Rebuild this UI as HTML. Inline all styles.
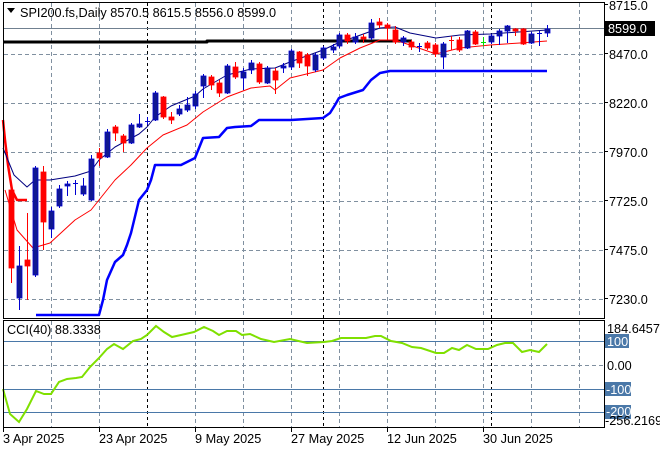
<!DOCTYPE html>
<html><head><meta charset="utf-8"><style>
html,body{margin:0;padding:0;background:#fff;width:660px;height:450px;overflow:hidden}
svg{display:block}
text{font-family:"Liberation Sans",sans-serif;font-size:12.7px;fill:#000}
</style></head><body>
<svg id="s" width="660" height="450" viewBox="0 0 660 450" xmlns="http://www.w3.org/2000/svg">
<rect x="0" y="0" width="660" height="450" fill="#fff"/>
<g id="grid"></g>
<g id="cci"></g>
<g id="main"></g>
<rect x="3.5" y="2.5" width="601" height="316" fill="none" stroke="#000"/>
<rect x="3.5" y="320.5" width="601" height="107" fill="none" stroke="#000"/>
<path d="M7 8 L15 8 L11 13 Z" fill="#000"/>
<text x="20" y="17">SPI200.fs,Daily  8570.5 8615.5 8556.0 8599.0</text>
<text x="7" y="334">CCI(40) 88.3338</text>
<g id="axis"></g>
</svg>
<script>
const NS="http://www.w3.org/2000/svg";
function el(p,t,a,txt){const e=document.createElementNS(NS,t);for(const k in a)e.setAttribute(k,a[k]);if(txt!==undefined)e.textContent=txt;document.getElementById(p).appendChild(e);return e;}
const gx=[51,99,195,243,291,339,387,435,483,531,579];
gx.forEach(x=>{el('grid','line',{x1:x+.5,y1:3,x2:x+.5,y2:318,stroke:'#8090a0','stroke-dasharray':'4,3'});el('grid','line',{x1:x+.5,y1:321,x2:x+.5,y2:427,stroke:'#8090a0','stroke-dasharray':'4,3'});});
[147,323,491].forEach(x=>{el('grid','line',{x1:x+.5,y1:3,x2:x+.5,y2:318,stroke:'#000','stroke-dasharray':'3,3'});el('grid','line',{x1:x+.5,y1:321,x2:x+.5,y2:427,stroke:'#000','stroke-dasharray':'3,3'});});
[54,103,152,201,250,299].forEach(y=>el('grid','line',{x1:4,y1:y+.5,x2:604,y2:y+.5,stroke:'#8090a0','stroke-dasharray':'4,3'}));
el('grid','line',{x1:4,y1:28.5,x2:604,y2:28.5,stroke:'#708090'});
[341,389,412].forEach(y=>el('grid','line',{x1:4,y1:y+.5,x2:604,y2:y+.5,stroke:'#4a78a8'}));
el('grid','line',{x1:4,y1:365.5,x2:604,y2:365.5,stroke:'#8090a0','stroke-dasharray':'4,3'});
const cci=[[3,389],[10,414],[19,422],[27,409],[36,391],[44,394],[51,394],[59,382],[67,379],[76,378],[82,377],[90,367],[99,358],[107,349],[114,344],[123,349],[133,341],[141,339],[147,335],[156,326],[164,332],[172,337],[181,335],[194,332],[204,327],[213,331],[219,335],[227,331],[236,331],[242,335],[250,334],[261,339],[274,342],[290,339],[307,343],[324,342],[332,341],[341,338],[366,338],[375,336],[381,336],[391,341],[402,343],[412,347],[421,348],[436,353],[444,353],[452,348],[459,350],[467,345],[476,349],[488,349],[497,345],[505,343],[513,343],[522,352],[530,350],[539,352],[547,344]];
el('cci','polyline',{points:cci.map(p=>p.join(',')).join(' '),fill:'none',stroke:'#7fe000','stroke-width':2});
function pl(pts,c,w){el('main','polyline',{points:pts.map(p=>p.join(',')).join(' '),fill:'none',stroke:c,'stroke-width':w,'stroke-linejoin':'round'});}
pl([[3,42],[207,42],[207,41],[412,41]],'#000',3);
pl([[36,315],[99,315],[103,300],[107,280],[115,262],[123,255],[127,245],[131,233],[139,200],[147,190],[151,180],[155,165],[181,165],[195,158],[203,138],[219,137],[227,128],[235,127],[251,126],[259,120],[291,120],[323,118],[330,113],[335,105],[339,98],[347,95],[363,90],[371,80],[380,73],[390,71],[547,71]],'#0000ff',2.5);
pl([[3,120],[5,140],[8,165],[12,190],[17,200],[27,200]],'#ff0000',2.5);
pl([[5,190],[17,230],[33,248],[50,243],[75,220],[91,210],[99,200],[115,180],[131,165],[147,148],[163,135],[187,125],[203,112],[227,97],[251,88],[270,86],[275,90],[290,78],[323,70],[340,58],[360,48],[380,40],[395,40],[410,45],[436,54],[460,48],[490,45],[520,43],[547,41]],'#ff0000',1);
pl([[3,148],[14,175],[27,187],[35,180],[50,180],[75,176],[91,171],[99,160],[115,147],[139,134],[147,127],[155,117],[171,106],[195,96],[203,89],[227,75],[251,69],[275,68],[290,62],[323,50],[340,42],[355,37],[380,28],[395,27],[410,33],[436,38],[460,35],[490,34],[547,30]],'#000080',1);
const C=[[11,190,268,'r',185,283],[19,266,298,'b',246,310],[27,260,266,'r',213,300],[35,168,275,'b',166,277],[43,172,222,'r',166,250],[51,211,229,'b',207,238],[59,189,206,'b',185,208],[67,184,186,'b',181,196],[75,183,184,'b',180,195],[83,186,194,'b',178,196],[91,159,200,'b',155,201],[99,153,158,'r',148,166],[107,132,157,'b',129,158],[115,127,133,'r',125,141],[123,136,143,'r',134,152],[131,125,143,'b',123,144],[139,124,127,'b',114,128],[147,121,122,'b',117,125],[155,93,120,'b',91,121],[163,97,117,'r',96,119],[171,117,120,'r',112,124],[179,109,114,'b',105,116],[187,105,110,'b',97,112],[195,94,106,'b',91,109],[203,76,86,'b',74,98],[211,77,85,'r',75,90],[219,83,93,'r',80,97],[227,66,93,'b',64,94],[235,67,77,'r',62,79],[243,72,78,'b',68,90],[251,63,70,'b',60,74],[259,64,82,'r',62,84],[267,68,83,'b',66,84],[275,71,80,'r',68,94],[283,66,68,'b',63,73],[291,51,67,'b',49,70],[299,52,63,'r',51,68],[307,55,66,'r',53,76],[315,55,70,'b',53,72],[323,48,58,'b',46,60],[333,47,50,'b',44,53],[339,35,46,'b',33,48],[347,35,41,'r',33,44],[355,37,42,'b',33,44],[363,37,39,'r',34,43],[371,23,38,'b',19,40],[379,22,25,'r',18,28],[387,25,28,'r',23,40],[395,30,42,'r',26,44],[403,38,42,'b',36,46],[411,42,47,'r',40,50],[419,46,47,'b',43,52],[427,43,48,'r',41,50],[435,45,54,'r',43,57],[443,44,57,'b',42,69],[451,40,41,'r',36,50],[459,40,50,'r',37,52],[467,31,48,'b',30,49],[475,32,44,'r',30,45],[483,42,43,'g',37,46],[491,36,42,'b',34,44],[499,31,36,'b',29,45],[507,26,31,'b',25,43],[515,29,31,'r',28,36],[523,29,44,'r',28,45],[531,34,43,'b',32,44],[539,33,34,'b',31,46],[547,29,33,'b',25,37]];
C.forEach(([x,t,b,c,wt,wb])=>{const col=c=='r'?'#ff0000':(c=='g'?'#00e000':'#0000d0');const fill=c=='r'?'#ff0000':(c=='g'?'#00e000':'#101890');
el('main','line',{x1:x+.5,y1:wt,x2:x+.5,y2:wb,stroke:col});
if(b-t<2){el('main','line',{x1:x-2,y1:t+.5,x2:x+3,y2:t+.5,stroke:col});}
else el('main','rect',{x:x-2,y:t,width:5,height:b-t,fill:fill,stroke:col,'stroke-width':0.8});});
[['8715.0',9],['8470.0',58],['8220.0',107],['7970.0',156],['7725.0',205],['7475.0',254],['7230.0',303]].forEach(([t,y])=>{el('axis','text',{x:609,y:y+1},t);el('axis','line',{x1:604,y1:y-4.5,x2:608,y2:y-4.5,stroke:'#000'});});
el('axis','rect',{x:605,y:21,width:50,height:15,fill:'#000'});
el('axis','text',{x:608,y:33,style:'fill:#fff'},'8599.0');
el('axis','text',{x:607,y:333},'184.6457');
el('axis','rect',{x:605,y:334,width:24,height:14,fill:'#4a78a8'});
el('axis','text',{x:607,y:346,style:'fill:#fff'},'100');
el('axis','text',{x:607,y:370},'0.00');
el('axis','rect',{x:605,y:382,width:26,height:14,fill:'#4a78a8'});
el('axis','text',{x:606,y:394,style:'fill:#fff'},'-100');
el('axis','rect',{x:605,y:405,width:26,height:14,fill:'#4a78a8'});
el('axis','text',{x:606,y:416,style:'fill:#fff'},'-200');
el('axis','text',{x:605,y:425},'-256.2169');
[['3 Apr 2025',3],['23 Apr 2025',99],['9 May 2025',195],['27 May 2025',291],['12 Jun 2025',387],['30 Jun 2025',483]].forEach(([t,x])=>{el('axis','text',{x:x,y:443},t);el('axis','line',{x1:x+.5,y1:428,x2:x+.5,y2:432,stroke:'#000'});});
</script>
</body></html>
